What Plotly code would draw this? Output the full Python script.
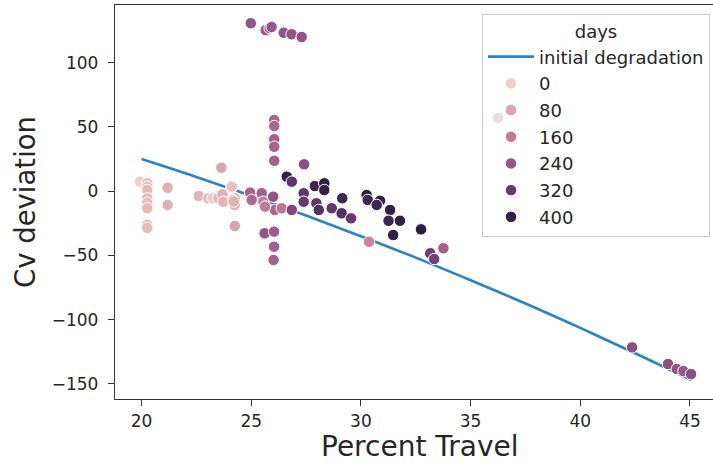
import numpy as np
import plotly.graph_objects as go

# ---------------- data ----------------
line_x = [20.0, 22.5, 25.0, 27.5, 30.0, 32.5, 35.0, 37.5, 40.0, 42.5, 45.07]
line_y = [25.0, 11.1, -3.5, -18.9, -35.0, -51.7, -69.3, -87.4, -106.4, -126.1, -147.0]

travel = [
    19.93, 20.26, 20.26, 20.26, 20.26, 20.26, 20.26, 20.26, 20.26,
    21.19, 21.19, 22.61, 23.04, 23.24, 23.50, 23.69, 23.72, 23.64,
    24.10, 24.25, 24.25, 24.25, 24.17, 24.11, 24.20,
    24.95, 25.02, 25.48, 25.55, 26.00, 26.08, 26.39, 26.85, 25.63,
    26.05, 26.05, 26.05, 26.05, 26.05,
    25.61, 26.04, 26.04, 26.02,
    24.98, 25.66, 25.84, 25.93, 26.48, 26.84, 27.30,
    26.62, 26.85, 27.41, 27.90, 28.33, 28.33, 27.39, 27.39, 27.97, 28.08,
    28.67, 29.15, 29.12, 29.55, 30.26, 30.31, 30.87, 30.72, 31.33, 31.26,
    31.78, 31.47, 30.37, 32.74, 33.16, 33.34, 33.76,
    36.25,
    42.36, 44.00, 44.40, 44.70, 45.05,
]
cv_dev = [
    7.4, 6.1, 3.5, 0.9, -5.5, -9.0, -13.3, -26.3, -28.5,
    2.7, -10.7, -3.7, -5.5, -5.5, -5.5, -2.4, -8.2, 18.3,
    2.7, -5.5, -10.7, -27.1, -6.8, 3.5, -8.0,
    -1.1, -6.8, -1.6, -8.2, -4.3, -14.6, -13.3, -14.6, -12.0,
    55.4, 50.7, 40.4, 34.6, 23.7,
    -32.8, -31.5, -43.2, -53.5,
    130.7, 125.4, 126.8, 127.8, 123.3, 122.1, 120.0,
    11.3, 7.4, 20.9, 4.0, 6.1, 0.9, -1.6, -8.2, -9.4, -14.6,
    -13.3, -5.5, -17.2, -21.1, -3.0, -6.8, -7.4, -10.7, -14.6, -23.0,
    -23.0, -34.1, -39.3, -29.7, -48.3, -52.8, -44.4,
    57.0,
    -121.5, -134.5, -138.4, -140.0, -142.3,
]
days = [
    0, 40, 30, 40, 40, 30, 40, 50, 40,
    60, 60, 50, 40, 10, 40, 60, 50, 80,
    0, 70, 60, 80, 50, 30, 60,
    210, 200, 220, 150, 250, 200, 170, 280, 160,
    210, 200, 220, 210, 220,
    250, 230, 220, 220,
    250, 240, 230, 240, 250, 250, 250,
    400, 330, 260, 380, 410, 400, 330, 320, 330, 350,
    330, 380, 350, 320, 410, 380, 400, 380, 400, 380,
    400, 400, 140, 410, 310, 300, 220,
    250,
    260, 260, 250, 240, 260,
]
legend_levels = [0, 80, 160, 240, 320, 400]

# ---------------- colour map (seaborn default cubehelix) ----------------
def cubehelix(t):
    x = 0.85 + (0.15 - 0.85) * t
    a = 0.8 * x * (1 - x) / 2
    phi = 2 * np.pi * (0.4 * x)
    c, s = np.cos(phi), np.sin(phi)
    r = x + a * (-0.14861 * c + 1.78277 * s)
    g = x + a * (-0.29227 * c - 0.90649 * s)
    b = x + a * (1.97294 * c)
    r, g, b = [int(round(255 * min(max(v, 0), 1))) for v in (r, g, b)]
    return f"rgb({r},{g},{b})"

dmin, dmax = min(days), max(days)
colorscale = [[i / 20, cubehelix(i / 20)] for i in range(21)]

FONT = "DejaVu Sans"
fig = go.Figure()

fig.add_trace(go.Scatter(
    x=line_x, y=line_y, mode="lines", name="initial degradation", legendgroup="line",
    line=dict(color="#2a83c4", width=2.6), line_shape="spline",
))

fig.add_trace(go.Scatter(
    x=travel, y=cv_dev, mode="markers", showlegend=False,
    marker=dict(size=11.5, color=days, colorscale=colorscale, cmin=dmin, cmax=dmax,
                showscale=False, line=dict(color="white", width=1)),
))

for lvl in legend_levels:
    fig.add_trace(go.Scatter(
        x=[None], y=[None], mode="markers", name=str(lvl), legendgroup=f"g{lvl}",
        marker=dict(size=11.5, color=cubehelix((lvl - dmin) / (dmax - dmin)),
                    line=dict(color="white", width=1)),
    ))

axis_common = dict(
    showgrid=False, zeroline=False, showline=True, linecolor="#333333", linewidth=1.4,
    ticks="outside", ticklen=6, tickwidth=1.4, tickcolor="#333333",
    tickfont=dict(family=FONT, size=17, color="#262626"),
)

fig.update_layout(
    width=713, height=463,
    margin=dict(l=115, r=0, t=5, b=64),
    paper_bgcolor="white", plot_bgcolor="white",
    font=dict(family=FONT, color="#262626"),
    xaxis=dict(range=[18.79, 46.05], tickvals=[20, 25, 30, 35, 40, 45], mirror=True,
               ticklabelstandoff=0, **axis_common),
    yaxis=dict(range=[-161.7, 144.9], tickvals=[-150, -100, -50, 0, 50, 100],
               ticklabelstandoff=6,
               title=dict(text="Cv deviation", font=dict(family=FONT, size=27.5), standoff=8),
               **axis_common),
    legend=dict(
        x=(710 - 115) / 598, y=0.977, xanchor="right", yanchor="top",
        bgcolor="rgba(255,255,255,0.8)", bordercolor="#cccccc", borderwidth=1,
        font=dict(family=FONT, size=18, color="#262626"),
        title=dict(text="days", side="top center", font=dict(family=FONT, size=18)),
        tracegroupgap=0.3, itemwidth=46,
    ),
    annotations=[dict(
        text="Percent Travel", xref="paper", yref="paper",
        x=(420 - 115) / 598, y=(399 - 447) / 394, xanchor="center", yanchor="middle",
        showarrow=False, font=dict(family=FONT, size=28, color="#262626"),
    )],
)

fig.write_html("out.html")
